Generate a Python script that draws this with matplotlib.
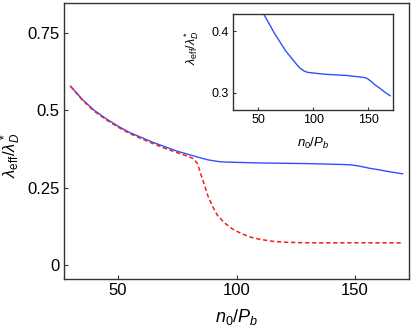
import matplotlib
matplotlib.use("Agg")
import matplotlib.pyplot as plt

plt.rcParams.update({"font.family": "Liberation Sans", "mathtext.fontset": "custom",
                     "mathtext.rm": "Liberation Sans", "mathtext.it": "Liberation Sans:italic",
                     "mathtext.bf": "Liberation Sans:bold"})

BLUE, RED, FRAME = "#3050ff", "#f02020", "#333333"

# blue (solid) curve
x_blue = [30, 35, 40, 45, 50, 55, 60, 65, 70, 75, 80, 85, 88, 92, 95, 100, 110, 120,
          130, 140, 145, 148, 150, 153, 156, 160, 165, 170]
y_blue = [0.578, 0.535, 0.500, 0.473, 0.449, 0.428, 0.412, 0.396, 0.382, 0.368, 0.357,
          0.346, 0.340, 0.335, 0.333, 0.332, 0.330, 0.329, 0.328, 0.326, 0.325, 0.324,
          0.322, 0.318, 0.313, 0.308, 0.301, 0.295]

# red (dashed) curve
x_red = [30, 35, 40, 45, 50, 55, 60, 65, 70, 75, 80, 82, 83.5, 85, 86.5, 88, 90, 92, 95,
         98, 102, 106, 110, 115, 120, 130, 140, 150, 160, 170]
y_red = [0.578, 0.533, 0.497, 0.470, 0.446, 0.425, 0.408, 0.392, 0.377, 0.363, 0.350,
         0.343, 0.328, 0.292, 0.258, 0.222, 0.188, 0.160, 0.136, 0.118, 0.102, 0.090,
         0.083, 0.077, 0.074, 0.072, 0.072, 0.072, 0.072, 0.072]

ylab = r"$\lambda_{\rm eff}/\lambda_D^*$"
xlab = r"$n_0/P_b$"

fig = plt.figure(figsize=(4.15, 3.31), dpi=100)
ax = fig.add_axes([0.154, 0.157, 0.832, 0.834])
ax.plot(x_blue, y_blue, color=BLUE, lw=1.0)
ax.plot(x_red, y_red, color=RED, lw=1.1, dashes=(2.8, 1.8))
ax.set_xlim(27.2, 172.8)
ax.set_ylim(-0.045, 0.847)
ax.set_xticks([50, 100, 150])
ax.set_yticks([0, 0.25, 0.5, 0.75])
ax.set_yticklabels(["0", "0.25", "0.5", "0.75"])
ax.tick_params(direction="in", length=3, width=0.8, color=FRAME, labelsize=12, pad=3)
ax.set_xlabel(xlab, fontsize=13, labelpad=6)
ax.set_ylabel(ylab, fontsize=12, labelpad=2)
ax.yaxis.set_label_coords(-0.118, 0.449)
for s in ax.spines.values():
    s.set_color(FRAME)
    s.set_linewidth(1.0)

ins = fig.add_axes([0.561, 0.668, 0.386, 0.290])
ins.plot(x_blue, y_blue, color=BLUE, lw=1.0)
ins.set_xlim(27, 172.6)
ins.set_ylim(0.272, 0.428)
ins.set_xticks([50, 100, 150])
ins.set_yticks([0.3, 0.4])
ins.tick_params(direction="in", length=2.5, width=0.8, color=FRAME, labelsize=9, pad=3)
ins.set_xlabel(xlab, fontsize=9.5, labelpad=7)
ins.set_ylabel(ylab, fontsize=9, labelpad=1)
ins.yaxis.set_label_coords(-0.2, 0.646)
for s in ins.spines.values():
    s.set_color(FRAME)
    s.set_linewidth(1.0)

fig.savefig("out.png", dpi=100)
